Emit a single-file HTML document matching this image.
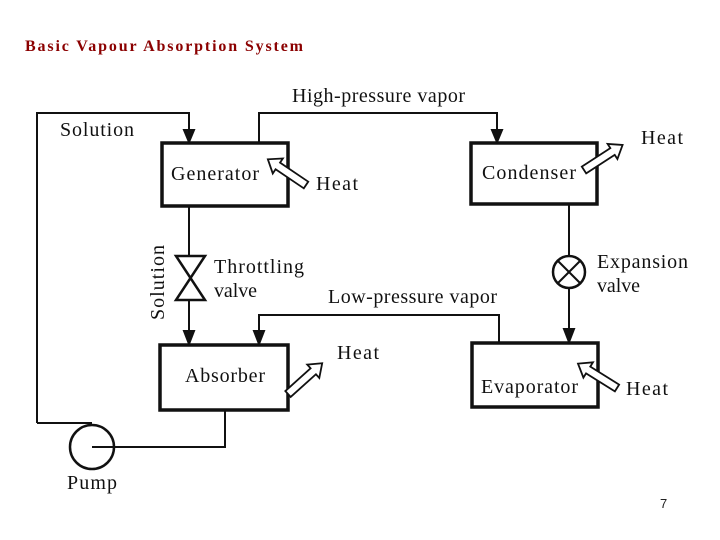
<!DOCTYPE html>
<html><head><style>
body{margin:0;width:720px;height:540px;background:#fff;overflow:hidden;}
</style></head><body>
<svg width="720" height="540" xmlns="http://www.w3.org/2000/svg" style="position:absolute;left:0;top:0">
<text x="25" y="51" font-family="Liberation Serif" font-weight="bold" font-size="16" fill="#8b0000" textLength="278" lengthAdjust="spacing">Basic Vapour Absorption System</text>
<text x="660" y="508" font-family="Liberation Sans" font-size="13" fill="#222">7</text>
<g stroke="#111" fill="none" stroke-width="2">
<rect x="162" y="143" width="126" height="63" stroke-width="3.5"/>
<rect x="471" y="143" width="126" height="61" stroke-width="3.5"/>
<rect x="160" y="345" width="128" height="65" stroke-width="3.5"/>
<rect x="472" y="343" width="126" height="64" stroke-width="3.5"/>
<polyline points="37,423 37,113 189,113 189,130"/>
<path d="M184,130 L194,130 L189,142 Z" fill="#111"/>
<polyline points="259,143 259,113 497,113 497,130"/>
<path d="M492,130 L502,130 L497,142 Z" fill="#111"/>
<line x1="189" y1="206" x2="189" y2="256"/>
<path d="M176,256 L205,256 L176,300 L205,300 Z" stroke-width="2.5"/>
<line x1="189" y1="300" x2="189" y2="332"/>
<path d="M184,331 L194,331 L189,344 Z" fill="#111"/>
<polyline points="499,343 499,315 259,315 259,332"/>
<path d="M254,331 L264,331 L259,344 Z" fill="#111"/>
<line x1="569" y1="204" x2="569" y2="256"/>
<circle cx="569" cy="272" r="16" stroke-width="2.5"/>
<line x1="558" y1="261" x2="580" y2="283"/><line x1="580" y1="261" x2="558" y2="283"/>
<line x1="569" y1="288" x2="569" y2="330"/>
<path d="M564,329 L574,329 L569,342 Z" fill="#111"/>
<polyline points="37,423 92,423"/>
<circle cx="92" cy="447" r="22" stroke-width="2.5"/>
<polyline points="92,447 225,447 225,410"/>
</g>
<g stroke="#111" fill="#fff" stroke-width="1.8">
<path d="M0,-4 L34,-4 L34,-9 L46,0 L34,9 L34,4 L0,4 Z" transform="translate(584,170) rotate(-33)"/>
<path d="M0,-4 L34,-4 L34,-9 L46,0 L34,9 L34,4 L0,4 Z" transform="translate(306,185) rotate(-146)"/>
<path d="M0,-4 L34,-4 L34,-9 L46,0 L34,9 L34,4 L0,4 Z" transform="translate(288,394) rotate(-42)"/>
<path d="M0,-4 L34,-4 L34,-9 L46,0 L34,9 L34,4 L0,4 Z" transform="translate(617,388) rotate(-148)"/>
</g>
<g font-family="Liberation Serif" font-size="20" fill="#111" lengthAdjust="spacingAndGlyphs">
<text x="60" y="136" textLength="74">Solution</text>
<text x="292" y="102" textLength="173">High-pressure vapor</text>
<text x="171" y="180" textLength="88">Generator</text>
<text x="316" y="190" textLength="42">Heat</text>
<text x="482" y="179" textLength="94">Condenser</text>
<text x="641" y="144" textLength="42">Heat</text>
<text x="214" y="273" textLength="90">Throttling</text>
<text x="214" y="297" textLength="43">valve</text>
<text x="328" y="303" textLength="169">Low-pressure vapor</text>
<text x="597" y="268" textLength="91">Expansion</text>
<text x="597" y="292" textLength="43">valve</text>
<text x="185" y="382" textLength="80">Absorber</text>
<text x="337" y="359" textLength="42">Heat</text>
<text x="481" y="393" textLength="97">Evaporator</text>
<text x="626" y="395" textLength="42">Heat</text>
<text x="67" y="489" textLength="50">Pump</text>
<text transform="translate(164,320) rotate(-90)" textLength="75">Solution</text>
</g>
</svg>
</body></html>
